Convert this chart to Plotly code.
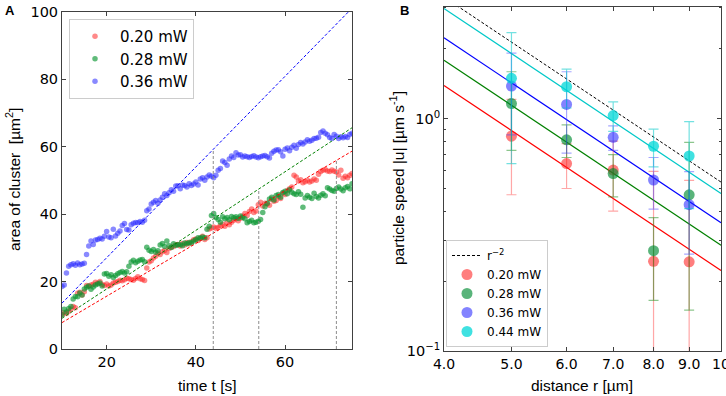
import numpy as np
import plotly.graph_objects as go

# ---------------- Panel A data ----------------
t_start, t_step = 10.0, 0.5
area_blue = [18.5, 19.0, 22.5, 24.5, 25.0, 25.3, 24.8, 25.5, 25.0, 25.2,
             25.4, 28.0, 30.5, 32.0, 31.0, 32.3, 32.5, 32.8, 32.6, 33.4,
             34.8, 33.2, 33.0, 35.5, 33.5, 34.3, 35.0, 36.6, 37.2, 35.4,
             35.3, 36.8, 37.3, 37.5, 37.4, 37.8, 37.6, 38.2, 41.0, 41.5,
             43.0, 43.5, 44.0, 43.2, 44.2, 45.0, 46.0, 45.5, 46.3, 47.2,
             46.8, 48.3, 48.4, 47.5, 48.6, 48.5, 48.0, 49.0, 48.5, 48.9,
             49.5, 48.6, 50.4, 50.8, 50.0, 51.0, 51.6, 51.2, 50.8, 51.5,
             53.0, 53.5, 55.7, 55.3, 54.5, 56.3, 57.2, 56.8, 58.2, 57.5,
             57.6, 56.9, 57.2, 57.0, 56.8, 57.1, 57.3, 56.9, 56.7, 57.0,
             57.2, 57.4, 57.0, 56.6, 58.0, 58.6, 59.0, 59.1, 58.5, 57.2,
             59.2, 59.6, 58.8, 59.8, 60.4, 59.5, 60.6, 61.2, 60.8, 61.4,
             62.0, 61.6, 61.9, 62.4, 62.5, 62.8, 64.2, 64.6, 64.0, 63.5,
             62.7, 62.4, 63.6, 63.1, 62.4, 62.9, 62.6, 63.0, 62.7, 63.6,
             64.0]
area_green = [10.2, 11.8, 11.0, 12.0, 12.6, 14.8, 15.6, 15.5, 16.6, 16.0,
              17.8, 18.3, 18.7, 17.7, 18.4, 19.0, 19.3, 19.6, 18.7, 22.2,
              22.4, 21.6, 22.0, 21.2, 21.8, 22.3, 22.7, 23.0, 22.5, 22.9,
              24.5, 25.8, 26.3, 25.6, 26.0, 26.4, 26.5, 25.9, 30.2, 29.3,
              28.9, 29.5, 28.7, 29.1, 30.8, 31.3, 30.4, 32.0, 30.6, 30.1,
              31.2, 30.7, 30.9, 31.0, 30.6, 31.4, 31.2, 31.6, 31.4, 32.0,
              32.4, 33.0, 32.8, 33.2, 33.0, 35.5, 36.4, 39.6, 40.2, 39.0,
              38.4, 37.6, 39.2, 38.6, 39.0, 38.3, 39.3, 38.9, 39.2, 38.8,
              39.4, 39.0, 38.6, 37.4, 37.8, 38.2, 37.4, 37.6, 37.9, 38.4,
              40.5, 42.2, 43.2, 44.5, 45.0, 44.2, 45.5, 45.8, 45.0, 46.4,
              46.8, 46.0, 47.2, 46.5, 46.0, 45.8, 46.6, 45.9, 42.0, 44.8,
              45.5, 45.0, 44.6, 46.2, 45.2, 44.8, 45.6, 46.0, 45.4, 47.8,
              47.4, 47.0, 46.8, 47.6, 48.0, 47.4, 46.9, 47.8, 48.2, 47.5,
              49.0]
area_red = [10.2, 10.8, 10.5, 11.2, 11.8, 12.6, 12.2, 16.5, 16.8, 16.0,
            17.0, 18.8, 18.6, 19.0, 19.2, 19.8, 19.5, 20.0, 19.1, 18.8,
            19.3, 18.7, 19.0, 19.6, 19.8, 20.0, 20.4, 20.2, 20.5, 21.0,
            20.8, 20.6, 20.4, 20.9, 21.4, 20.8, 20.6, 20.3, 24.0, 25.8,
            26.2, 27.0, 27.5, 28.4, 28.0, 28.8, 29.2, 28.6, 29.8, 30.2,
            30.4, 30.9, 31.0, 30.5, 31.3, 30.8, 31.6, 31.2, 31.8, 32.4,
            32.6, 32.2, 32.9, 33.4, 32.5, 33.0, 35.6, 35.9, 36.2, 35.8,
            36.0, 36.6, 37.0, 36.4, 37.4, 36.8, 37.6, 38.2, 38.6, 38.0,
            38.8, 39.4, 40.2, 39.6, 40.8, 41.5, 40.5, 40.9, 42.8, 43.5,
            42.4, 43.2, 43.0, 42.6, 44.5, 43.8, 44.0, 45.2, 44.6, 46.2,
            45.8, 47.0, 47.5, 48.0, 51.5, 51.0, 49.8, 50.2, 49.3, 49.6,
            50.0, 49.5, 49.8, 50.4, 50.0, 51.8, 52.6, 53.0, 53.2, 52.8,
            52.6, 53.1, 52.7, 52.5, 51.6, 53.0, 50.6, 51.2, 50.8, 51.5,
            52.0]
series_a = ["0.20 mW", "0.28 mW", "0.36 mW"]
# linear fits  area = slope * t + intercept
fit_slope = [0.782, 0.869, 1.345]
fit_intercept = [0.0, 0.41, 0.15]
# vertical marker times (red, green, blue fits)
vline_t = [71.5, 54.1, 43.9]

# ---------------- Panel B data ----------------
r_vals = [5.0, 6.0, 7.0, 8.0, 9.0]
speed_020 = [0.84, 0.64, 0.60, 0.243, 0.242]
err_020 = [0.37, 0.14, 0.20, 0.35, 0.30]
speed_028 = [1.16, 0.81, 0.58, 0.27, 0.47]
err_028 = [0.43, 0.13, 0.12, 0.105, 0.32]
speed_036 = [1.38, 1.15, 0.83, 0.544, 0.426]
err_036 = [0.53, 0.44, 0.10, 0.136, 0.165]
speed_044 = [1.49, 1.37, 1.03, 0.76, 0.69]
err_044 = [0.85, 0.26, 0.15, 0.14, 0.28]
series_b = ["0.20 mW", "0.28 mW", "0.36 mW", "0.44 mW"]
fit_coef_b = [22.2, 28.5, 35.6, 47.6]
ref_coef = 53.3
x_ticks_b = [4, 5, 6, 7, 8, 9, 10]
x_ticktext_b = ["4.0", "5.0", "6.0", "7.0", "8.0", "9.0", "10"]

# ---------------- styling ----------------
W, H = 726, 396
FONT = "DejaVu Sans"
TFONT = "Liberation Sans"
AX = "#404040"
line_cols_a = ["rgb(255,0,0)", "rgb(0,128,0)", "rgb(0,0,255)"]
dot_cols_a = ["rgba(255,40,40,0.55)", "rgba(10,150,50,0.65)", "rgba(40,40,255,0.55)"]
line_cols_b = ["rgb(255,0,0)", "rgb(0,128,0)", "rgb(0,0,255)", "rgb(0,200,200)"]
dot_cols_b = ["rgba(255,20,20,0.55)", "rgba(0,140,50,0.65)", "rgba(30,30,255,0.55)", "rgba(0,215,215,0.75)"]
err_cols_b = ["rgba(255,60,60,0.45)", "rgba(0,128,0,0.45)", "rgba(60,60,255,0.45)", "rgba(0,200,200,0.55)"]

fig = go.Figure()

# Panel A
t_vals = t_start + t_step * np.arange(len(area_blue))
t_line = np.array([10.0, 75.0])
for i, ys in enumerate([area_red, area_green, area_blue]):
    fig.add_trace(go.Scatter(
        x=t_vals, y=ys, mode="markers", name=series_a[i],
        marker=dict(size=5.5, color=dot_cols_a[i], line=dict(width=0)),
        xaxis="x", yaxis="y", legend="legend"))
for i in range(3):
    fig.add_trace(go.Scatter(
        x=t_line, y=fit_slope[i] * t_line + fit_intercept[i], mode="lines",
        line=dict(color=line_cols_a[i], width=1, dash="3px,2px"),
        showlegend=False, xaxis="x", yaxis="y"))
for i in range(3):
    top = fit_slope[i] * vline_t[i] + fit_intercept[i]
    fig.add_trace(go.Scatter(
        x=[vline_t[i], vline_t[i]], y=[0, top], mode="lines",
        line=dict(color="rgb(140,140,140)", width=1, dash="3px,2px"),
        showlegend=False, xaxis="x", yaxis="y"))

# Panel B
r_line = np.geomspace(4, 10, 60)
fig.add_trace(go.Scatter(
    x=r_line, y=ref_coef * r_line ** -2.0, mode="lines", name="r<sup>−2</sup>",
    line=dict(color="black", width=1, dash="3px,2px"),
    xaxis="x2", yaxis="y2", legend="legend2"))
for i in range(4):
    fig.add_trace(go.Scatter(
        x=r_line, y=fit_coef_b[i] * r_line ** -2.0, mode="lines",
        line=dict(color=line_cols_b[i], width=1.2),
        showlegend=False, xaxis="x2", yaxis="y2"))
for i, (ys, es) in enumerate([(speed_020, err_020), (speed_028, err_028),
                               (speed_036, err_036), (speed_044, err_044)]):
    fig.add_trace(go.Scatter(
        x=r_vals, y=ys, mode="markers", name=series_b[i],
        marker=dict(size=11, color=dot_cols_b[i], line=dict(width=0)),
        error_y=dict(type="data", array=es, visible=True, color=err_cols_b[i],
                     thickness=1.2, width=5),
        xaxis="x2", yaxis="y2", legend="legend2"))

A_dom_x = [62 / W, 352 / W]
A_dom_y = [1 - 349 / H, 1 - 11.7 / H]
B_dom_x = [444 / W, 721 / W]
B_dom_y = [1 - 351 / H, 1 - 6.5 / H]

common = dict(showline=True, linecolor=AX, linewidth=1, mirror="ticks",
              ticks="inside", tickcolor=AX, ticklen=4, showgrid=False,
              zeroline=False, automargin=False)

fig.update_layout(
    width=W, height=H,
    margin=dict(l=0, r=0, t=0, b=0, autoexpand=False),
    paper_bgcolor="white", plot_bgcolor="white",
    font=dict(family=FONT, color="black", size=13),
    xaxis=dict(domain=A_dom_x, range=[10, 75], tickvals=[20, 40, 60],
               tickfont=dict(size=14.5), anchor="y", **common),
    yaxis=dict(domain=A_dom_y, range=[0, 100], tickvals=[0, 20, 40, 60, 80, 100],
               tickfont=dict(size=14.5), anchor="x", **common),
    xaxis2=dict(domain=B_dom_x, type="log", range=[np.log10(4), 1],
                tickvals=x_ticks_b, ticktext=x_ticktext_b,
                ticklabeloverflow="allow",
                tickfont=dict(size=14), anchor="y2", **common),
    yaxis2=dict(domain=B_dom_y, type="log", range=[-1, 0.482],
                tickvals=[0.1, 1], ticktext=["10<sup>−1</sup>", "10<sup>0</sup>"],
                tickfont=dict(size=14.5), anchor="x2",
                minor=dict(ticks="inside", ticklen=2, tickcolor=AX,
                           tickvals=[0.2, 0.3, 0.4, 0.5, 0.6, 0.7, 0.8, 0.9, 2, 3]),
                **common),
    legend=dict(x=69 / W, y=1 - 19 / H, xanchor="left", yanchor="top",
                bgcolor="white", bordercolor="#cccccc", borderwidth=1,
                font=dict(size=15), itemwidth=40, tracegroupgap=0),
    legend2=dict(x=446 / W, y=1 - 347 / H, xanchor="left", yanchor="bottom",
                 bgcolor="white", bordercolor="#cccccc", borderwidth=1,
                 font=dict(size=12), tracegroupgap=0),
    showlegend=True,
)

annotations = [
    dict(text="<b>A</b>", x=3 / W, y=1 - 1 / H, xref="paper", yref="paper",
         xanchor="left", yanchor="top", showarrow=False,
         font=dict(size=13, family=TFONT)),
    dict(text="<b>B</b>", x=398 / W, y=1 - 1 / H, xref="paper", yref="paper",
         xanchor="left", yanchor="top", showarrow=False,
         font=dict(size=13, family=TFONT)),
    dict(text="time t [s]", x=207 / W, y=1 - 385 / H, xref="paper", yref="paper",
         xanchor="center", yanchor="middle", showarrow=False,
         font=dict(size=15.5, family=TFONT)),
    dict(text="distance r [µm]", x=582 / W, y=1 - 385 / H, xref="paper", yref="paper",
         xanchor="center", yanchor="middle", showarrow=False,
         font=dict(size=15.5, family=TFONT)),
    dict(text="area of cluster  [µm<sup>2</sup>]", x=13 / W, y=1 - 180 / H,
         xref="paper", yref="paper", xanchor="center", yanchor="middle",
         textangle=-90, showarrow=False, font=dict(size=15.5, family=TFONT)),
    dict(text="particle speed |u| [µm s<sup>-1</sup>]", x=397 / W, y=1 - 178 / H,
         xref="paper", yref="paper", xanchor="center", yanchor="middle",
         textangle=-90, showarrow=False, font=dict(size=15.5, family=TFONT)),
]
fig.update_layout(annotations=annotations)

fig.write_html("out.html", config={"displayModeBar": False},
               post_script="document.body.style.margin='0';document.body.style.overflow='hidden';")
